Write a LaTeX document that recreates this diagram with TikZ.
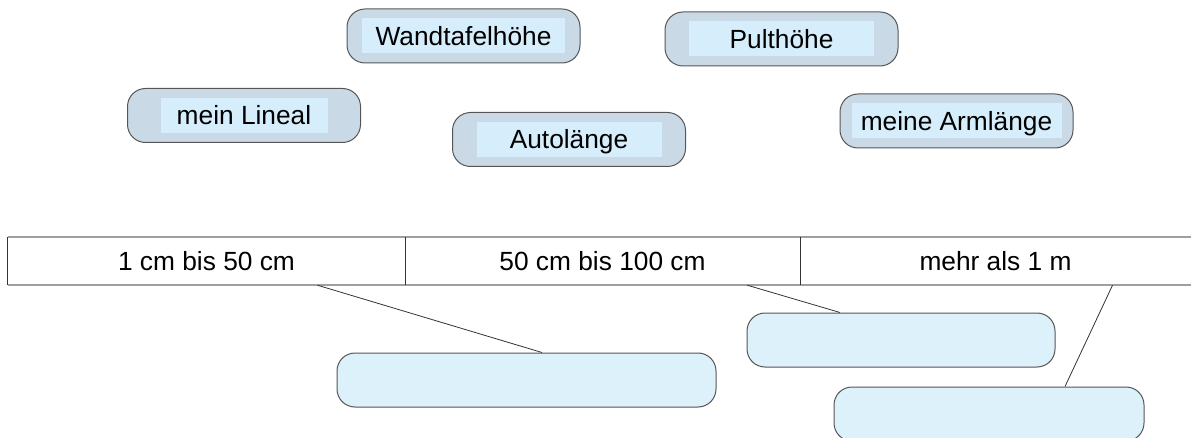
\documentclass[tikz,border=0pt]{standalone}
\usepackage{fontspec}
\setmainfont{Liberation Sans}
\usetikzlibrary{calc}
\definecolor{kartenblau}{HTML}{C9DAE6}
\definecolor{textblau}{HTML}{D6EEFB}
\definecolor{leerblau}{HTML}{DDF1FA}
\definecolor{rand}{HTML}{555555}
\newcommand{\kartew}{233}
\newcommand{\karteh}{54}
\newcommand{\karte}[5]{
	\node [karte](#1) at (#2,#3) {};
	\node [kartentext, minimum width=#4](#1t) at (#1.center) {#5};
	}
\newcommand{\leer}[4]{
	\node [leerkarte, minimum width=#4](#1) at (#2,#3) {};
	}

\begin{document}
\begin{tikzpicture}[
      x=1pt, y=-1pt, %pixel units
      every node/.style={font=\fontsize{26.3}{31}\selectfont, inner sep=0pt},
      karte/.style={draw=rand, line width=1pt, fill=kartenblau, rounded corners=18pt,
                    minimum width=\kartew pt, minimum height=\karteh pt},
      kartentext/.style={fill=textblau, minimum height=35pt, text height=19pt, text depth=0pt},
      leerkarte/.style={draw=rand, line width=1pt, fill=leerblau, rounded corners=18pt,
                    minimum height=\karteh pt},
      zelle/.style={minimum height=48pt, text height=19pt, text depth=0pt},
      zeile/.style={draw=gray!75, line width=1.6pt},
      trenner/.style={draw=black!80, line width=0.8pt},
      verbinder/.style={draw=black!80, line width=0.8pt}
    ]
    \useasboundingbox (0,0) rectangle (1191,438);
    % Kaertchen zum Zuordnen
    \karte{wand}{463.5}{36}{203pt}{Wandtafelh\"ohe};
    \karte{pult}{781.5}{39}{185pt}{Pulth\"ohe};
    \karte{lineal}{244}{115.5}{167pt}{mein Lineal};
    \karte{auto}{569}{139.5}{185pt}{Autol\"ange};
    \karte{arm}{956.5}{121}{210pt}{meine Arml\"ange};
    % Tabelle
    \node[zelle, minimum width=397pt] (c1) at (206.5,261) {1 cm bis 50 cm};
    \node[zelle, minimum width=395pt] (c2) at (602.5,261) {50 cm bis 100 cm};
    \node[zelle, minimum width=391pt] (c3) at (995.5,261) {mehr als 1 m};
    \draw[zeile] (c1.north west) -- (c3.north east);
    \draw[zeile] (c1.south west) -- (c3.south east);
    \draw[trenner] (c1.north west) -- (c1.south west);
    \draw[trenner] (c1.north east) -- (c1.south east);
    \draw[trenner] (c2.north east) -- (c2.south east);
    % leere Felder
    \leer{feldA}{526.5}{380}{379pt};
    \leer{feldB}{901}{340}{308pt};
    \leer{feldC}{989}{414}{310pt};
    % Verbindungen
    \coordinate (z1) at ($(c1.south west)!0.779!(c1.south east)$);
    \coordinate (z2) at ($(c2.south west)!0.866!(c2.south east)$);
    \coordinate (z3) at ($(c3.south west)!0.799!(c3.south east)$);
    \draw[verbinder] (z1) -- ([xshift=15.5pt]feldA.north);
    \draw[verbinder] (z2) -- ([xshift=-61pt]feldB.north);
    \draw[verbinder] (z3) -- ([xshift=76pt]feldC.north);
\end{tikzpicture}
\end{document}
